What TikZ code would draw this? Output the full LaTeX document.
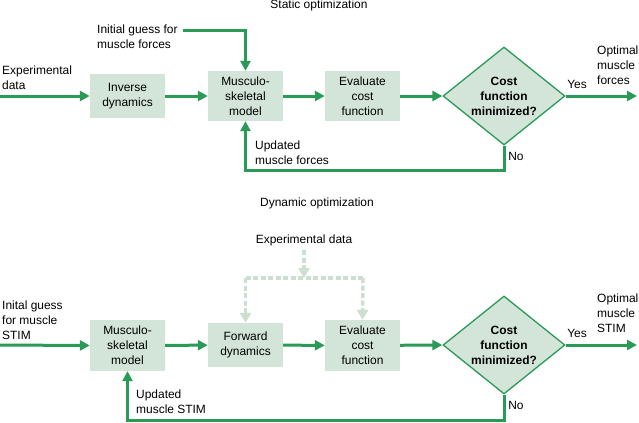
\documentclass[tikz,border=0pt]{standalone}
\usepackage{fontspec}
\setmainfont{Liberation Sans}
\usetikzlibrary{arrows.meta,shapes.geometric}
\definecolor{lgreen}{HTML}{2A9A57}
\definecolor{boxfill}{HTML}{D3E4D8}
\definecolor{dashcol}{HTML}{CCDFD1}
\begin{document}
\begin{tikzpicture}[x=1bp,y=-1bp,
  every node/.style={font=\fontsize{12}{15}\selectfont, inner sep=0pt},
  procbox/.style={fill=boxfill, minimum width=75bp, align=center},
  decision/.style={diamond, draw=lgreen, line width=1.3bp, fill=boxfill, minimum width=122bp, minimum height=98bp},
  flow/.style={draw=lgreen, line width=3bp, -{Triangle[length=10bp,width=10bp]}},
  flowline/.style={draw=lgreen, line width=3bp},
  dflow/.style={draw=dashcol, line width=3.5bp, dash pattern=on 5bp off 2.5bp, -{Triangle[length=10bp,width=11bp]}},
  dline/.style={draw=dashcol, line width=3.5bp, dash pattern=on 5bp off 2.5bp},
  lbl/.style={align=left, anchor=west},
  dtext/.style={font=\fontsize{12}{15}\selectfont\bfseries, align=center}
]
\useasboundingbox (0,0) rectangle (639,422);

% ---------- Static optimization ----------
\node (t1) at (319,5) {Static optimization};
\node[procbox, minimum height=44bp] (inv) at (127.5,96) {Inverse\\dynamics};
\node[procbox, minimum height=50bp] (msk) at (245.5,96) {Musculo-\\skeletal\\model};
\node[procbox, minimum height=50bp] (ev) at (362.5,96) {Evaluate\\cost\\function};
\node[decision] (dia) at (504,96) {};
\node[dtext] (diat) at (dia) {Cost\\function\\minimized?};

\coordinate (in1) at (0,96);
\coordinate (out1) at (637,96);
\coordinate (ig1) at (183,30);
\coordinate (fb1) at (504,170);

\node[lbl] (exp1) at (2,78) {Experimental\\data};
\node[lbl] (init1) at (97,37) {Initial guess for\\muscle forces};
\node[lbl] (opt1) at (597,65) {Optimal\\muscle\\forces};
\node (yes1) at (577,84) {Yes};
\node (no1) at (516,156) {No};
\node[lbl] (upd1) at (255,153) {Updated\\muscle forces};

\draw[flow] (in1) -- (inv.west);
\draw[flow] (inv) -- (msk);
\draw[flow] (msk) -- (ev);
\draw[flow] (ev) -- (dia.west);
\draw[flow] (dia.east) -- (out1);
\draw[flow] (ig1) -| (msk.north);
\draw[flow] (dia.south) |- (fb1) -| (msk.south);

% ---------- Dynamic optimization ----------
\node (t2) at (317,203) {Dynamic optimization};
\node (exp2) at (304,240) {Experimental data};
\node[procbox, minimum height=51bp] (msk2) at (127.5,345.5) {Musculo-\\skeletal\\model};
\node[procbox, minimum height=44bp] (fwd) at (245.5,345) {Forward\\dynamics};
\node[procbox, minimum height=51bp] (ev2) at (362.5,345.5) {Evaluate\\cost\\function};
\node[decision] (dia2) at (504,345) {};
\node[dtext] (dia2t) at (dia2) {Cost\\function\\minimized?};

\coordinate (in2) at (0,345);
\coordinate (out2) at (637,345);
\coordinate (fb2) at (504,420);
\coordinate (dj) at (304,278);
\coordinate (dl) at (245.5,278);
\coordinate (dr) at (363,278);
\coordinate (ds) at (304,250);

\node[lbl] (init2) at (2,320.5) {Inital guess\\for muscle\\STIM};
\node[lbl] (opt2) at (597,313) {Optimal\\muscle\\STIM};
\node (yes2) at (577,333) {Yes};
\node (no2) at (516,405) {No};
\node[lbl] (upd2) at (136,402) {Updated\\muscle STIM};

\draw[dline] (dl) -- (dr);
\draw[dflow] (ds) -- (dj);
\draw[dflow] (dl) -- (fwd.north);
\draw[dflow] (dr) -- (ev2.north);

\draw[flow] (in2) -- (msk2.west);
\draw[flow] (msk2) -- (fwd);
\draw[flow] (fwd) -- (ev2);
\draw[flow] (ev2) -- (dia2.west);
\draw[flow] (dia2.east) -- (out2);
\draw[flow] (dia2.south) |- (fb2) -| (msk2.south);
\end{tikzpicture}
\end{document}
